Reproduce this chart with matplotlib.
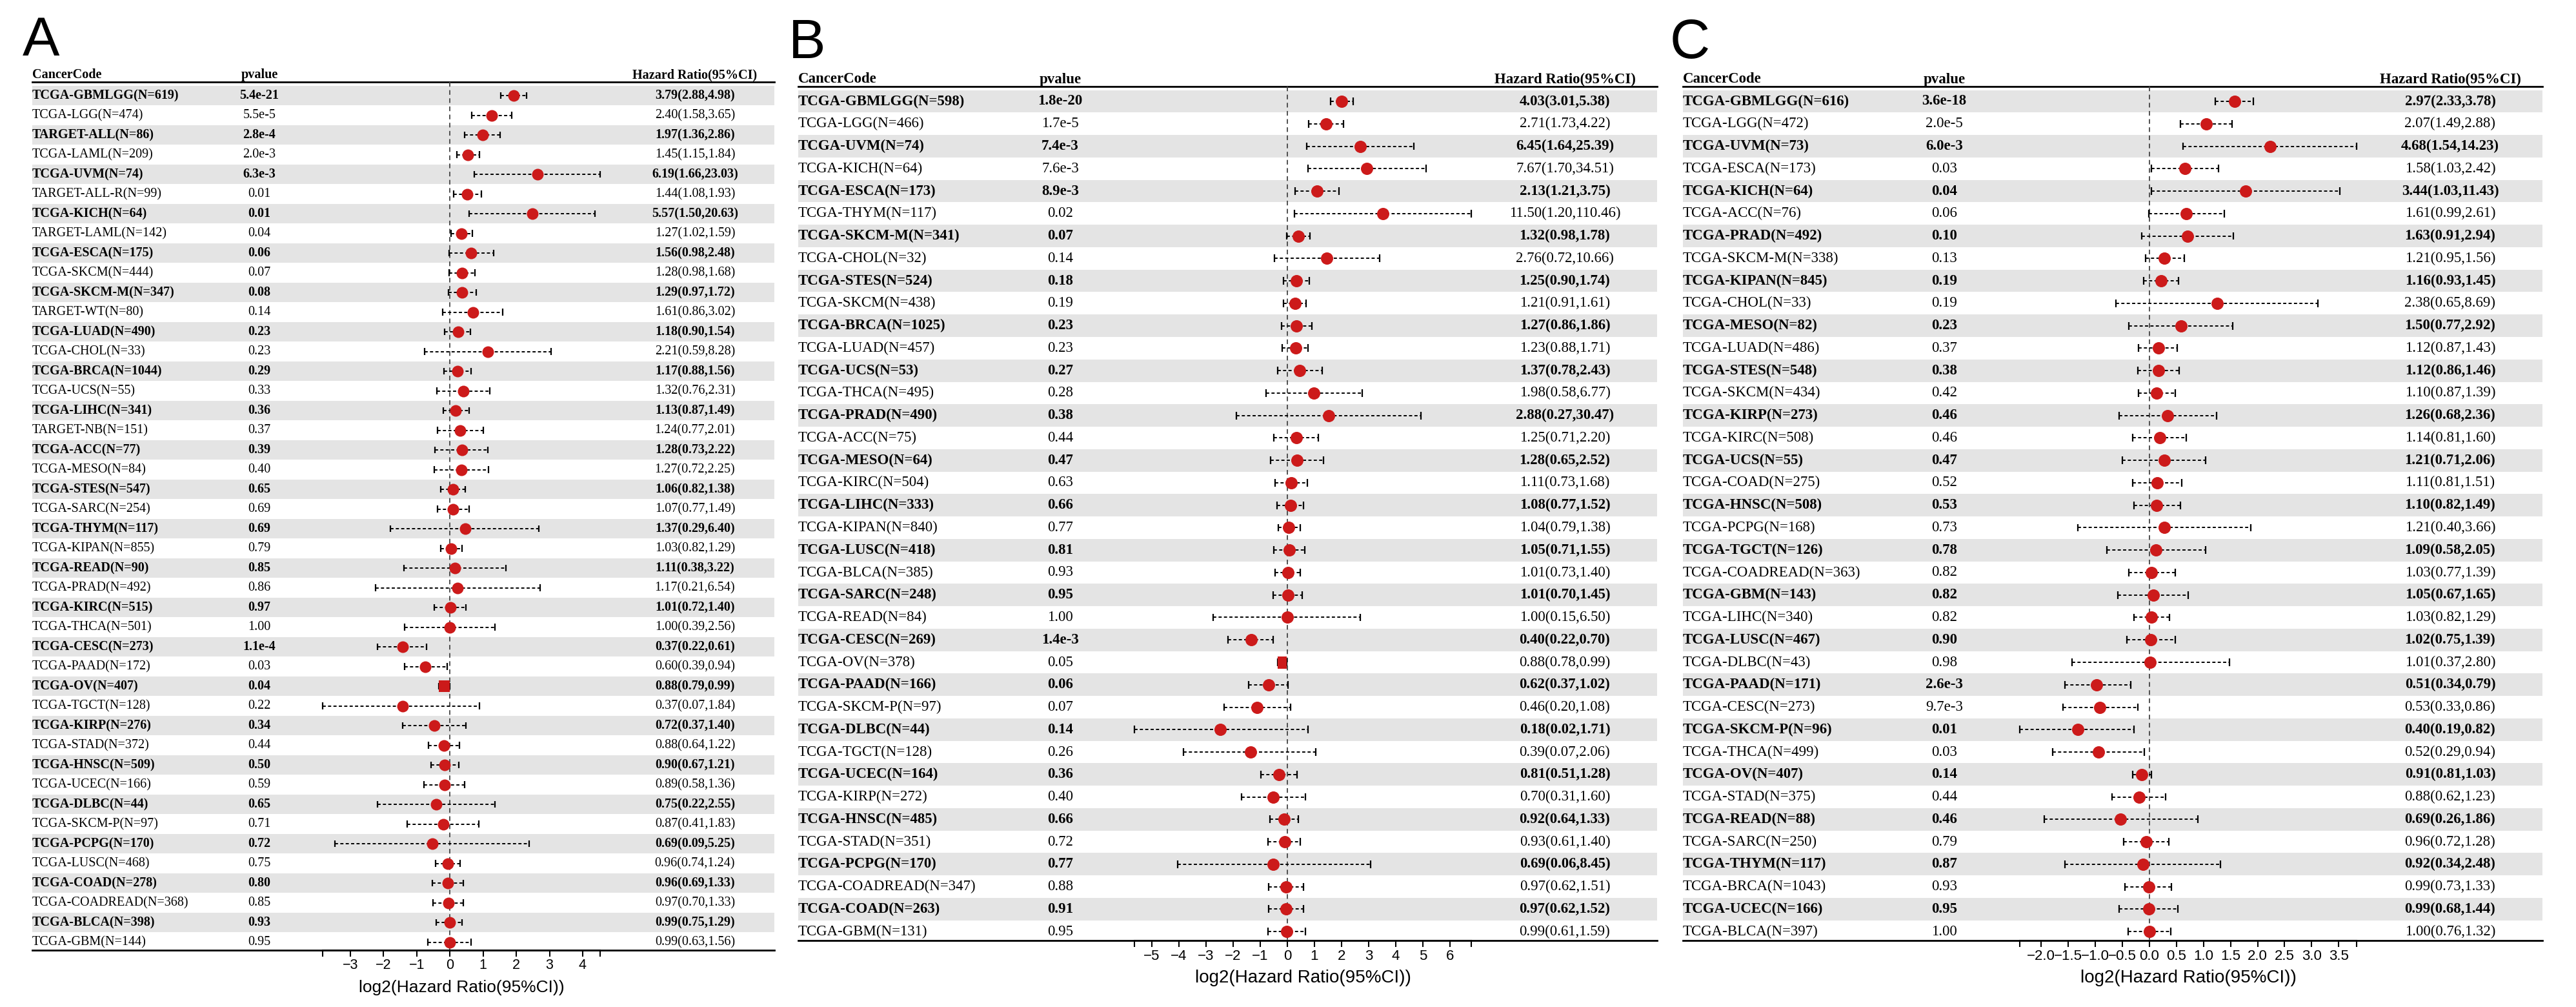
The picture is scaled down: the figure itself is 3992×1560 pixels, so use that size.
import numpy as np
import matplotlib.pyplot as plt
from matplotlib.patches import Rectangle

W, H = 3992, 1560
DPI = 100
SERIF = "Liberation Serif"
SANS = "Liberation Sans"
RED = "#cc1a1a"
SHADE = "#e4e4e4"

# ---- Panel A ----
A_CODE = ["TCGA-GBMLGG", "TCGA-LGG", "TARGET-ALL", "TCGA-LAML", "TCGA-UVM", "TARGET-ALL-R",
          "TCGA-KICH", "TARGET-LAML", "TCGA-ESCA", "TCGA-SKCM", "TCGA-SKCM-M", "TARGET-WT",
          "TCGA-LUAD", "TCGA-CHOL", "TCGA-BRCA", "TCGA-UCS", "TCGA-LIHC", "TARGET-NB",
          "TCGA-ACC", "TCGA-MESO", "TCGA-STES", "TCGA-SARC", "TCGA-THYM", "TCGA-KIPAN",
          "TCGA-READ", "TCGA-PRAD", "TCGA-KIRC", "TCGA-THCA", "TCGA-CESC", "TCGA-PAAD",
          "TCGA-OV", "TCGA-TGCT", "TCGA-KIRP", "TCGA-STAD", "TCGA-HNSC", "TCGA-UCEC",
          "TCGA-DLBC", "TCGA-SKCM-P", "TCGA-PCPG", "TCGA-LUSC", "TCGA-COAD", "TCGA-COADREAD",
          "TCGA-BLCA", "TCGA-GBM"]
A_N = [619, 474, 86, 209, 74, 99, 64, 142, 175, 444, 347, 80, 490, 33, 1044, 55, 341, 151,
       77, 84, 547, 254, 117, 855, 90, 492, 515, 501, 273, 172, 407, 128, 276, 372, 509, 166,
       44, 97, 170, 468, 278, 368, 398, 144]
A_P = ["5.4e-21", "5.5e-5", "2.8e-4", "2.0e-3", "6.3e-3", "0.01", "0.01", "0.04", "0.06",
       "0.07", "0.08", "0.14", "0.23", "0.23", "0.29", "0.33", "0.36", "0.37", "0.39", "0.40",
       "0.65", "0.69", "0.69", "0.79", "0.85", "0.86", "0.97", "1.00", "1.1e-4", "0.03",
       "0.04", "0.22", "0.34", "0.44", "0.50", "0.59", "0.65", "0.71", "0.72", "0.75", "0.80",
       "0.85", "0.93", "0.95"]
A_HR = [3.79, 2.40, 1.97, 1.45, 6.19, 1.44, 5.57, 1.27, 1.56, 1.28, 1.29, 1.61, 1.18, 2.21,
        1.17, 1.32, 1.13, 1.24, 1.28, 1.27, 1.06, 1.07, 1.37, 1.03, 1.11, 1.17, 1.01, 1.00,
        0.37, 0.60, 0.88, 0.37, 0.72, 0.88, 0.90, 0.89, 0.75, 0.87, 0.69, 0.96, 0.96, 0.97,
        0.99, 0.99]
A_LO = [2.88, 1.58, 1.36, 1.15, 1.66, 1.08, 1.50, 1.02, 0.98, 0.98, 0.97, 0.86, 0.90, 0.59,
        0.88, 0.76, 0.87, 0.77, 0.73, 0.72, 0.82, 0.77, 0.29, 0.82, 0.38, 0.21, 0.72, 0.39,
        0.22, 0.39, 0.79, 0.07, 0.37, 0.64, 0.67, 0.58, 0.22, 0.41, 0.09, 0.74, 0.69, 0.70,
        0.75, 0.63]
A_HI = [4.98, 3.65, 2.86, 1.84, 23.03, 1.93, 20.63, 1.59, 2.48, 1.68, 1.72, 3.02, 1.54, 8.28,
        1.56, 2.31, 1.49, 2.01, 2.22, 2.25, 1.38, 1.49, 6.40, 1.29, 3.22, 6.54, 1.40, 2.56,
        0.61, 0.94, 0.99, 1.84, 1.40, 1.22, 1.21, 1.36, 2.55, 1.83, 5.25, 1.24, 1.33, 1.33,
        1.29, 1.56]
A_TICKS = [-3, -2, -1, 0, 1, 2, 3, 4]

# ---- Panel B ----
B_CODE = ["TCGA-GBMLGG", "TCGA-LGG", "TCGA-UVM", "TCGA-KICH", "TCGA-ESCA", "TCGA-THYM",
          "TCGA-SKCM-M", "TCGA-CHOL", "TCGA-STES", "TCGA-SKCM", "TCGA-BRCA", "TCGA-LUAD",
          "TCGA-UCS", "TCGA-THCA", "TCGA-PRAD", "TCGA-ACC", "TCGA-MESO", "TCGA-KIRC",
          "TCGA-LIHC", "TCGA-KIPAN", "TCGA-LUSC", "TCGA-BLCA", "TCGA-SARC", "TCGA-READ",
          "TCGA-CESC", "TCGA-OV", "TCGA-PAAD", "TCGA-SKCM-P", "TCGA-DLBC", "TCGA-TGCT",
          "TCGA-UCEC", "TCGA-KIRP", "TCGA-HNSC", "TCGA-STAD", "TCGA-PCPG", "TCGA-COADREAD",
          "TCGA-COAD", "TCGA-GBM"]
B_N = [598, 466, 74, 64, 173, 117, 341, 32, 524, 438, 1025, 457, 53, 495, 490, 75, 64, 504,
       333, 840, 418, 385, 248, 84, 269, 378, 166, 97, 44, 128, 164, 272, 485, 351, 170, 347,
       263, 131]
B_P = ["1.8e-20", "1.7e-5", "7.4e-3", "7.6e-3", "8.9e-3", "0.02", "0.07", "0.14", "0.18",
       "0.19", "0.23", "0.23", "0.27", "0.28", "0.38", "0.44", "0.47", "0.63", "0.66", "0.77",
       "0.81", "0.93", "0.95", "1.00", "1.4e-3", "0.05", "0.06", "0.07", "0.14", "0.26",
       "0.36", "0.40", "0.66", "0.72", "0.77", "0.88", "0.91", "0.95"]
B_HR = [4.03, 2.71, 6.45, 7.67, 2.13, 11.50, 1.32, 2.76, 1.25, 1.21, 1.27, 1.23, 1.37, 1.98,
        2.88, 1.25, 1.28, 1.11, 1.08, 1.04, 1.05, 1.01, 1.01, 1.00, 0.40, 0.88, 0.62, 0.46,
        0.18, 0.39, 0.81, 0.70, 0.92, 0.93, 0.69, 0.97, 0.97, 0.99]
B_LO = [3.01, 1.73, 1.64, 1.70, 1.21, 1.20, 0.98, 0.72, 0.90, 0.91, 0.86, 0.88, 0.78, 0.58,
        0.27, 0.71, 0.65, 0.73, 0.77, 0.79, 0.71, 0.73, 0.70, 0.15, 0.22, 0.78, 0.37, 0.20,
        0.02, 0.07, 0.51, 0.31, 0.64, 0.61, 0.06, 0.62, 0.62, 0.61]
B_HI = [5.38, 4.22, 25.39, 34.51, 3.75, 110.46, 1.78, 10.66, 1.74, 1.61, 1.86, 1.71, 2.43,
        6.77, 30.47, 2.20, 2.52, 1.68, 1.52, 1.38, 1.55, 1.40, 1.45, 6.50, 0.70, 0.99, 1.02,
        1.08, 1.71, 2.06, 1.28, 1.60, 1.33, 1.40, 8.45, 1.51, 1.52, 1.59]
B_TICKS = [-5, -4, -3, -2, -1, 0, 1, 2, 3, 4, 5, 6]

# ---- Panel C ----
C_CODE = ["TCGA-GBMLGG", "TCGA-LGG", "TCGA-UVM", "TCGA-ESCA", "TCGA-KICH", "TCGA-ACC",
          "TCGA-PRAD", "TCGA-SKCM-M", "TCGA-KIPAN", "TCGA-CHOL", "TCGA-MESO", "TCGA-LUAD",
          "TCGA-STES", "TCGA-SKCM", "TCGA-KIRP", "TCGA-KIRC", "TCGA-UCS", "TCGA-COAD",
          "TCGA-HNSC", "TCGA-PCPG", "TCGA-TGCT", "TCGA-COADREAD", "TCGA-GBM", "TCGA-LIHC",
          "TCGA-LUSC", "TCGA-DLBC", "TCGA-PAAD", "TCGA-CESC", "TCGA-SKCM-P", "TCGA-THCA",
          "TCGA-OV", "TCGA-STAD", "TCGA-READ", "TCGA-SARC", "TCGA-THYM", "TCGA-BRCA",
          "TCGA-UCEC", "TCGA-BLCA"]
C_N = [616, 472, 73, 173, 64, 76, 492, 338, 845, 33, 82, 486, 548, 434, 273, 508, 55, 275,
       508, 168, 126, 363, 143, 340, 467, 43, 171, 273, 96, 499, 407, 375, 88, 250, 117, 1043,
       166, 397]
C_P = ["3.6e-18", "2.0e-5", "6.0e-3", "0.03", "0.04", "0.06", "0.10", "0.13", "0.19", "0.19",
       "0.23", "0.37", "0.38", "0.42", "0.46", "0.46", "0.47", "0.52", "0.53", "0.73", "0.78",
       "0.82", "0.82", "0.82", "0.90", "0.98", "2.6e-3", "9.7e-3", "0.01", "0.03", "0.14",
       "0.44", "0.46", "0.79", "0.87", "0.93", "0.95", "1.00"]
C_HR = [2.97, 2.07, 4.68, 1.58, 3.44, 1.61, 1.63, 1.21, 1.16, 2.38, 1.50, 1.12, 1.12, 1.10,
        1.26, 1.14, 1.21, 1.11, 1.10, 1.21, 1.09, 1.03, 1.05, 1.03, 1.02, 1.01, 0.51, 0.53,
        0.40, 0.52, 0.91, 0.88, 0.69, 0.96, 0.92, 0.99, 0.99, 1.00]
C_LO = [2.33, 1.49, 1.54, 1.03, 1.03, 0.99, 0.91, 0.95, 0.93, 0.65, 0.77, 0.87, 0.86, 0.87,
        0.68, 0.81, 0.71, 0.81, 0.82, 0.40, 0.58, 0.77, 0.67, 0.82, 0.75, 0.37, 0.34, 0.33,
        0.19, 0.29, 0.81, 0.62, 0.26, 0.72, 0.34, 0.73, 0.68, 0.76]
C_HI = [3.78, 2.88, 14.23, 2.42, 11.43, 2.61, 2.94, 1.56, 1.45, 8.69, 2.92, 1.43, 1.46, 1.39,
        2.36, 1.60, 2.06, 1.51, 1.49, 3.66, 2.05, 1.39, 1.65, 1.29, 1.39, 2.80, 0.79, 0.86,
        0.82, 0.94, 1.03, 1.23, 1.86, 1.28, 2.48, 1.33, 1.44, 1.32]
C_TICKS = [-2.0, -1.5, -1.0, -0.5, 0.0, 0.5, 1.0, 1.5, 2.0, 2.5, 3.0, 3.5]

# layout of each panel, in pixels from the top-left corner
LAYOUT_A = dict(letter_x=35, letter_y=104, left=50, right=1200, pv=402, hr=1077,
                fx0=500, fx1=930, head_y=116, hline=127, row0=148, step=30.5,
                gap=12, fs=14.5, diam=18, tick_fs=15.5, xlab_fs=19, xlab_y=1530)
LAYOUT_B = dict(letter_x=1222, letter_y=108, left=1237, right=2568, pv=1643, hr=2425,
                fx0=1758, fx1=2280, head_y=123, hline=134, row0=157, step=34.76,
                gap=14, fs=16.5, diam=19, tick_fs=16, xlab_fs=20, xlab_y=1515)
LAYOUT_C = dict(letter_x=2588, letter_y=108, left=2608, right=3940, pv=3013, hr=3797,
                fx0=3130, fx1=3652, head_y=123, hline=134, row0=157, step=34.76,
                gap=14, fs=16.5, diam=19, tick_fs=16, xlab_fs=20, xlab_y=1515)


def fmt_tick(t, decimals):
    s = f"{t:.{decimals}f}"
    return s.replace("-", "\u2212")


def draw_panel(fig, bg, letter, codes, ns, pvals, hr, lo, hi, ticks, decimals, L):
    n = len(codes)
    ys = L["row0"] + np.arange(n) * L["step"]
    half = L["step"] / 2
    bottom = ys[-1] + L["gap"]

    # panel letter, bottom of its box kept above the header
    bg.text(L["letter_x"], L["letter_y"], letter, fontsize=62, family=SANS,
            ha="left", va="bottom")

    # header
    hk = dict(fontsize=L["fs"], family=SERIF, weight="bold", va="center")
    bg.text(L["left"], L["head_y"], "CancerCode", ha="left", **hk)
    bg.text(L["pv"], L["head_y"], "pvalue", ha="center", **hk)
    bg.text(L["hr"], L["head_y"], "Hazard Ratio(95%CI)", ha="center", **hk)
    bg.plot([L["left"], L["right"]], [L["hline"], L["hline"]], color="black", lw=2)
    bg.plot([L["left"], L["right"]], [bottom, bottom], color="black", lw=2)

    for i in range(n):
        bold = i % 2 == 0
        if bold:
            bg.add_patch(Rectangle((L["left"], ys[i] - half), L["right"] - L["left"],
                                   L["step"], color=SHADE, lw=0, zorder=0))
        tk = dict(fontsize=L["fs"], family=SERIF, weight="bold" if bold else "normal",
                  va="center")
        bg.text(L["left"], ys[i], f"{codes[i]}(N={ns[i]})", ha="left", **tk)
        bg.text(L["pv"], ys[i], pvals[i], ha="center", **tk)
        bg.text(L["hr"], ys[i], f"{hr[i]:.2f}({lo[i]:.2f},{hi[i]:.2f})", ha="center", **tk)

    # forest part: x in log2 units, y in pixels
    lhr, llo, lhi = np.log2(hr), np.log2(lo), np.log2(hi)
    xmin, xmax = llo.min(), lhi.max()
    ax = fig.add_axes([L["fx0"] / W, 0, (L["fx1"] - L["fx0"]) / W, 1])
    ax.set_xlim(xmin, xmax)
    ax.set_ylim(H, 0)
    ax.patch.set_alpha(0)
    px_per_unit = (L["fx1"] - L["fx0"]) / (xmax - xmin)

    ax.plot([0, 0], [L["hline"], bottom], color="#444444", lw=1.3, ls=(0, (4, 3)))
    cap = 0.17 * L["step"]
    ax.hlines(ys, llo, lhi, color="black", lw=1.4, linestyles=(0, (2.5, 1.8)), clip_on=False)
    ax.vlines(llo, ys - cap, ys + cap, color="black", lw=1.6, clip_on=False)
    ax.vlines(lhi, ys - cap, ys + cap, color="black", lw=1.6, clip_on=False)

    d = L["diam"]
    for i in range(n):
        # a marker wider than its interval is cut down to the interval, as a box
        if (lhi[i] - llo[i]) * px_per_unit < d:
            ax.add_patch(Rectangle((llo[i], ys[i] - d / 2), lhi[i] - llo[i], d,
                                   color=RED, lw=0, zorder=3))
        else:
            ax.scatter(lhr[i], ys[i], s=(d * 72 / DPI) ** 2, color=RED, lw=0, zorder=3)

    for side in ("top", "left", "right"):
        ax.spines[side].set_visible(False)
    ax.spines["bottom"].set_position(("data", bottom))
    ax.spines["bottom"].set_bounds(xmin, xmax)
    ax.spines["bottom"].set_linewidth(1.5)
    ax.set_yticks([])
    ax.set_xticks([xmin] + list(ticks) + [xmax])
    ax.set_xticklabels([""] + [fmt_tick(t, decimals) for t in ticks] + [""],
                       family=SANS, fontsize=L["tick_fs"])
    ax.tick_params(axis="x", direction="out", length=7, width=1.5, pad=3)
    ax.text((xmin + xmax) / 2, L["xlab_y"], "log2(Hazard Ratio(95%CI))", ha="center",
            va="center", family=SANS, fontsize=L["xlab_fs"])


fig = plt.figure(figsize=(W / DPI, H / DPI), dpi=DPI)
bg = fig.add_axes([0, 0, 1, 1])
bg.set_xlim(0, W)
bg.set_ylim(H, 0)
bg.axis("off")

draw_panel(fig, bg, "A", A_CODE, A_N, A_P, A_HR, A_LO, A_HI, A_TICKS, 0, LAYOUT_A)
draw_panel(fig, bg, "B", B_CODE, B_N, B_P, B_HR, B_LO, B_HI, B_TICKS, 0, LAYOUT_B)
draw_panel(fig, bg, "C", C_CODE, C_N, C_P, C_HR, C_LO, C_HI, C_TICKS, 1, LAYOUT_C)

fig.savefig("out.png", dpi=DPI, facecolor="white")
